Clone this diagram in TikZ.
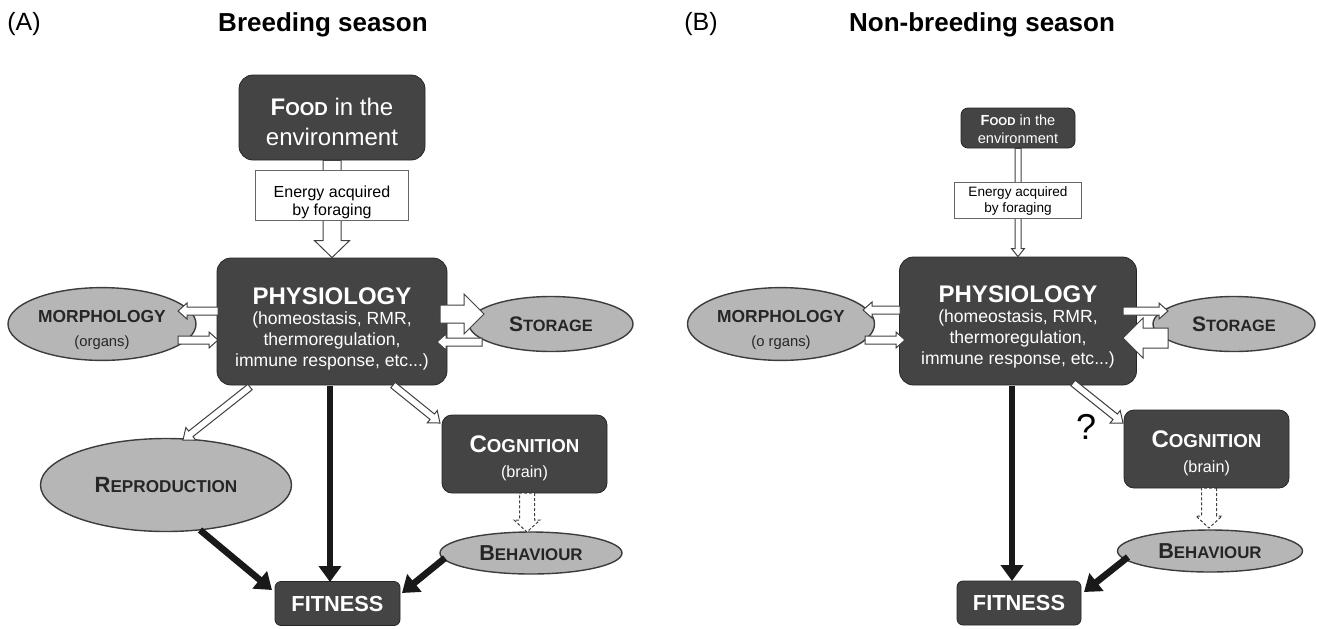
\documentclass[tikz,border=0pt]{standalone}
\usepackage{fontspec}
\setmainfont{Liberation Sans}
\usepackage{graphicx}
\usetikzlibrary{calc,arrows.meta,shapes.geometric}
\definecolor{boxgray}{RGB}{68,68,68}
\definecolor{ovalgray}{RGB}{182,182,182}
\definecolor{edgegray}{RGB}{60,60,60}
\newcommand\capsc[2]{#1\scalebox{0.78}{#2}}
\newcommand\flowarrow[6][hollow]{%
  \coordinate (hb) at ($(#3)!#6!(#2)$);
  \draw[#1] ($(#2)!#4!90:(#3)$)--($(hb)!#4!90:(#3)$)--($(hb)!#5!90:(#3)$)--(#3)
    --($(hb)!#5!-90:(#3)$)--($(hb)!#4!-90:(#3)$)--($(#2)!#4!-90:(#3)$)--cycle;}
\tikzset{
  darkbox/.style={draw=black!85,fill=boxgray,rounded corners=7pt,text=white,inner sep=0pt,align=center},
  oval/.style={ellipse,draw=edgegray,line width=0.7pt,fill=ovalgray,text=black!85,inner sep=0pt,align=center,font=\bfseries},
  energybox/.style={draw=black!60,fill=white,inner sep=0pt,align=center},
  hollow/.style={draw=black!75,fill=white,line width=0.5pt},
  hollowdash/.style={hollow,dash pattern=on 1.5pt off 1pt},
  fitarrow/.style={line width=3.3pt,draw=black!90,-{Triangle[length=8pt,width=11pt]}},
}
\begin{document}
\begin{tikzpicture}[x=0.5pt,y=-0.5pt]
\useasboundingbox (0,0) rectangle (1318,628);
% (A)
\node[font=\fontsize{12.5}{12.5}\selectfont] (labA) at (24,24) {(A)};
\node[font=\fontsize{13}{13}\selectfont\bfseries] (titleA) at (323,25) {Breeding season};
\node[darkbox,minimum width=93pt,minimum height=42.5pt,font=\fontsize{12}{15}\selectfont] (foodA) at (332,117.5)
  {\rule{0pt}{12.7pt}\textbf{\capsc{F}{OOD}} in the\\environment};
\node[darkbox,minimum width=115pt,minimum height=63.5pt,font=\fontsize{8.8}{10.5}\selectfont] (physA) at (332,321.5)
  {\rule{0pt}{15.5pt}{\fontsize{12}{12}\selectfont\bfseries PHYSIOLOGY}\\[-0.5pt](homeostasis, RMR,\\thermoregulation,\\immune response, etc...)};
\flowarrow{foodA.south}{physA.north}{4.5pt}{8.75pt}{8.5pt}
\node[energybox,minimum width=76.5pt,minimum height=25pt,font=\fontsize{8}{9}\selectfont] (enA) at (332,195)
  {\rule{0pt}{12.7pt}Energy acquired\\by foraging};
\node[oval,minimum width=94pt,minimum height=28pt] (morphA) at (102,324)
  {\rule{0pt}{12.2pt}\fontsize{8.7}{10.5}\selectfont MORPHOLOGY\\\fontsize{7.4}{10.5}\selectfont\mdseries (organs)};
\node[oval,minimum width=82pt,minimum height=27.5pt,font=\fontsize{10.5}{10.5}\selectfont\bfseries] (storA) at (551,324) {\capsc{S}{TORAGE}};
\node[oval,minimum width=125.5pt,minimum height=46.5pt,font=\fontsize{11}{11}\selectfont\bfseries] (repro) at (166,485) {\capsc{R}{EPRODUCTION}};
\node[darkbox,rounded corners=5pt,minimum width=82.5pt,minimum height=39pt,font=\fontsize{8.1}{12.5}\selectfont] (cogA) at (524.5,454)
  {\rule{0pt}{12.6pt}{\fontsize{12}{12}\selectfont\bfseries\capsc{C}{OGNITION}}\\(brain)};
\node[oval,minimum width=91pt,minimum height=21pt,font=\fontsize{10.8}{10.8}\selectfont\bfseries] (behA) at (531,553) {\capsc{B}{EHAVIOUR}};
\node[darkbox,rounded corners=3pt,minimum width=62.5pt,minimum height=22pt,font=\fontsize{10.9}{10.9}\selectfont\bfseries] (fitA) at (337.5,603.5) {FITNESS};
\coordinate (mAout) at (218,311); \coordinate (mAtip) at (178,311);
\coordinate (mAtail) at (178,340); \coordinate (mAin) at (218,340);
\coordinate (sAout) at (440,314); \coordinate (sAtip) at (484,314);
\coordinate (sAtail) at (482,342); \coordinate (sAin) at (437,342);
\coordinate (rAout) at (250,387); \coordinate (rAin) at (183,440);
\coordinate (cAout) at (393,385); \coordinate (cAin) at (440,423);
\coordinate (bAout) at (527,493); \coordinate (bAin) at (527,532);
\flowarrow{mAout}{mAtip}{2pt}{4pt}{4.5pt}
\flowarrow{mAtail}{mAin}{2pt}{4pt}{4.5pt}
\flowarrow{sAout}{sAtip}{4.5pt}{10pt}{10pt}
\flowarrow{sAtail}{sAin}{2pt}{4pt}{4.5pt}
\flowarrow{rAout}{rAin}{1.75pt}{4pt}{5pt}
\flowarrow{cAout}{cAin}{1.75pt}{4pt}{5pt}
\flowarrow[hollowdash]{bAout}{bAin}{3.75pt}{6.5pt}{6pt}
\coordinate (fA1) at (200,530); \coordinate (fA1tip) at (272,590);
\coordinate (fA2) at (330,386); \coordinate (fA2tip) at (330,582);
\coordinate (fA3) at (445,558); \coordinate (fA3tip) at (402,593);
\draw[fitarrow] (fA1)--(fA1tip);
\draw[fitarrow] (fA2)--(fA2tip);
\draw[fitarrow] (fA3)--(fA3tip);
% (B)
\node[font=\fontsize{12.5}{12.5}\selectfont] (labB) at (701,24) {(B)};
\node[font=\fontsize{13}{13}\selectfont\bfseries] (titleB) at (982,25) {Non-breeding season};
\node[darkbox,rounded corners=3.5pt,minimum width=57pt,minimum height=20pt,font=\fontsize{7.3}{9}\selectfont] (foodB) at (1018,128)
  {\rule{0pt}{6.8pt}\textbf{\capsc{F}{OOD}} in the\\environment};
\node[darkbox,minimum width=118.5pt,minimum height=64pt,font=\fontsize{8.8}{10.5}\selectfont] (physB) at (1018,321)
  {\rule{0pt}{14.5pt}{\fontsize{12}{12}\selectfont\bfseries PHYSIOLOGY}\\[-0.5pt](homeostasis, RMR,\\thermoregulation,\\immune response, etc...)};
\flowarrow{foodB.south}{physB.north}{1.5pt}{3.2pt}{4pt}
\node[energybox,minimum width=63.5pt,minimum height=18pt,font=\fontsize{6.8}{8}\selectfont] (enB) at (1018,200)
  {\rule{0pt}{6pt}Energy acquired\\by foraging};
\node[oval,minimum width=93.5pt,minimum height=27.5pt] (morphB) at (781,324)
  {\rule{0pt}{12.2pt}\fontsize{8.7}{10.5}\selectfont MORPHOLOGY\\\fontsize{7.4}{10.5}\selectfont\mdseries (o rgans)};
\node[oval,minimum width=81pt,minimum height=27.5pt,font=\fontsize{10.5}{10.5}\selectfont\bfseries] (storB) at (1234,324) {\capsc{S}{TORAGE}};
\node[darkbox,rounded corners=5pt,minimum width=82.5pt,minimum height=39pt,font=\fontsize{8.1}{12.5}\selectfont] (cogB) at (1206.5,449)
  {\rule{0pt}{12.6pt}{\fontsize{12}{12}\selectfont\bfseries\capsc{C}{OGNITION}}\\(brain)};
\node[oval,minimum width=92.5pt,minimum height=21pt,font=\fontsize{10.8}{10.8}\selectfont\bfseries] (behB) at (1210,551) {\capsc{B}{EHAVIOUR}};
\node[darkbox,rounded corners=3pt,minimum width=62pt,minimum height=22pt,font=\fontsize{10.9}{10.9}\selectfont\bfseries] (fitB) at (1019,603) {FITNESS};
\node[font=\fontsize{18}{18}\selectfont] (qmark) at (1086,427) {?};
\coordinate (mBout) at (900,310); \coordinate (mBtip) at (863,310);
\coordinate (mBtail) at (865,340); \coordinate (mBin) at (905,340);
\coordinate (sBout) at (1123,311); \coordinate (sBtip) at (1168,311);
\coordinate (sBtail) at (1168,338); \coordinate (sBin) at (1123,338);
\coordinate (cBout) at (1073,383); \coordinate (cBin) at (1123,423);
\coordinate (bBout) at (1209,488); \coordinate (bBin) at (1209,528);
\flowarrow{mBout}{mBtip}{2pt}{4pt}{4.5pt}
\flowarrow{mBtail}{mBin}{2pt}{4pt}{4.5pt}
\flowarrow{sBout}{sBtip}{2pt}{4pt}{4.5pt}
\flowarrow{sBtail}{sBin}{5pt}{10pt}{10pt}
\flowarrow{cBout}{cBin}{1.75pt}{4pt}{5pt}
\flowarrow[hollowdash]{bBout}{bBin}{3.75pt}{6.5pt}{6pt}
\coordinate (fB2) at (1012,386); \coordinate (fB2tip) at (1012,581);
\coordinate (fB3) at (1128,557); \coordinate (fB3tip) at (1084,592);
\draw[fitarrow] (fB2)--(fB2tip);
\draw[fitarrow] (fB3)--(fB3tip);
\end{tikzpicture}
\end{document}
